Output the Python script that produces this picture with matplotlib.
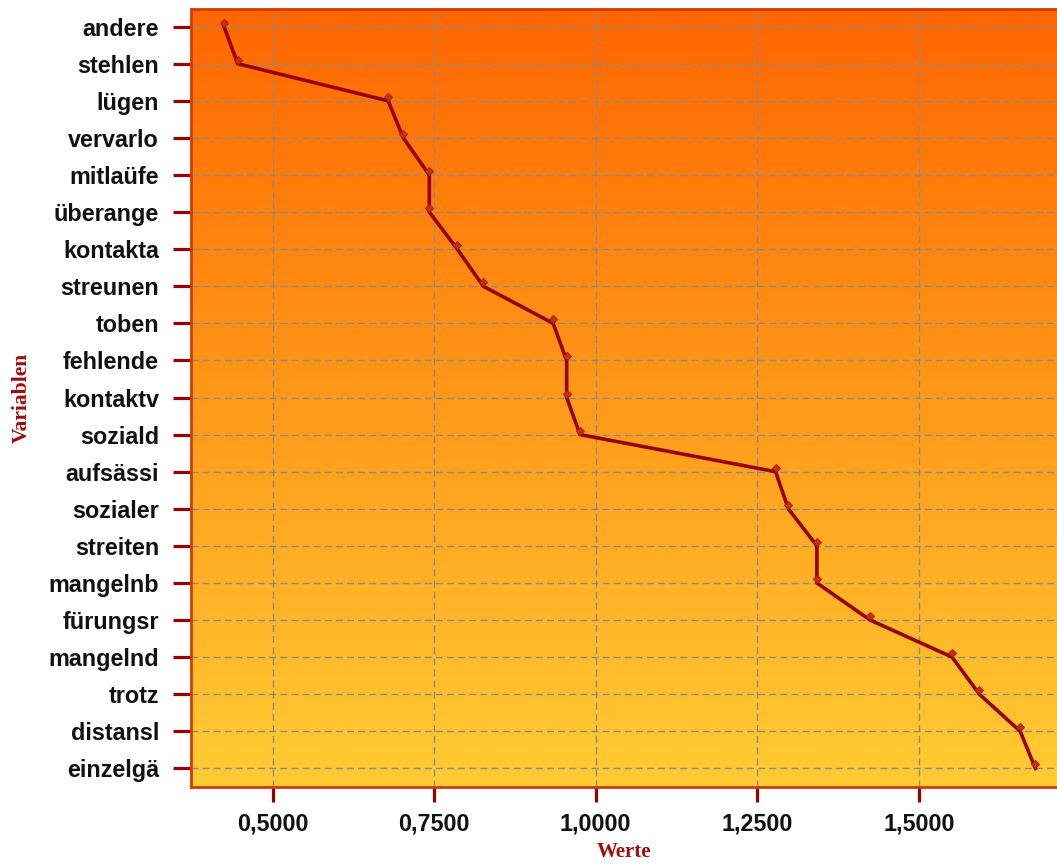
import numpy as np
import matplotlib.pyplot as plt
import matplotlib.transforms as mtransforms
from matplotlib.colors import LinearSegmentedColormap
from matplotlib.ticker import FuncFormatter, FixedLocator

# variables, top to bottom
variablen = ['andere', 'stehlen', 'lügen', 'vervarlo', 'mitlaüfe', 'überange',
             'kontakta', 'streunen', 'toben', 'fehlende', 'kontaktv', 'soziald',
             'aufsässi', 'sozialer', 'streiten', 'mangelnb', 'fürungsr',
             'mangelnd', 'trotz', 'distansl', 'einzelgä']
werte = [0.4247, 0.4458, 0.6787, 0.7022, 0.7424, 0.7424,
         0.7857, 0.8260, 0.9340, 0.9550, 0.9550, 0.9757,
         1.2784, 1.2981, 1.3423, 1.3423, 1.4246,
         1.5516, 1.5937, 1.6570, 1.6805]
x_ticks = [0.5, 0.75, 1.0, 1.25, 1.5]

DARKRED = '#990000'

fig = plt.figure(figsize=(10.57, 8.64), dpi=100)
ax = fig.add_axes([0.1807, 0.0891, 0.8193, 0.9005])

# orange-to-yellow background gradient
grad = LinearSegmentedColormap.from_list('bg', ['#ff6600', '#ffcc33'])
ax.imshow(np.linspace(0, 1, 256).reshape(-1, 1), cmap=grad, aspect='auto',
          extent=[0, 1, 0, 1], transform=ax.transAxes, zorder=0)

ypos = np.arange(len(variablen))
ax.plot(werte, ypos, color=DARKRED, lw=2.6, zorder=3, solid_joinstyle='miter')

# small markers sit slightly above each vertex
shift = mtransforms.ScaledTranslation(0, 4 / 100, fig.dpi_scale_trans)
ax.plot(werte, ypos, ls='none', marker='D', ms=4, color='#c8300c',
        mec='#b02008', mew=0.8, zorder=4, transform=ax.transData + shift)

ax.set_xlim(0.3735, 1.714)
ax.set_ylim(20.504, -0.477)

ax.xaxis.set_major_locator(FixedLocator(x_ticks))
ax.xaxis.set_major_formatter(FuncFormatter(lambda v, p: f'{v:.4f}'.replace('.', ',')))
ax.set_yticks(ypos)
ax.set_yticklabels(variablen)

ax.grid(True, color='#8a8a8a', ls=(0, (5, 3)), lw=1.0, zorder=1)

for lbl in ax.get_xticklabels() + ax.get_yticklabels():
    lbl.set_family(['Liberation Sans', 'DejaVu Sans'])
    lbl.set_fontweight('bold')
    lbl.set_fontsize(16.8)
    lbl.set_color('#111111')

ax.tick_params(axis='y', length=13, width=2.3, color=DARKRED, pad=10)
ax.tick_params(axis='x', length=11, width=2.3, color=DARKRED, pad=7)

for sp in ax.spines.values():
    sp.set_color('#d43a08')
    sp.set_linewidth(2)
ax.spines['right'].set_visible(False)

# axis titles
fig.text(624 / 1057, 1 - 852 / 864, 'Werte', ha='center', va='center',
         family='Liberation Serif', fontweight='bold', fontsize=15,
         color='#a00c0c')
fig.text(22 / 1057, 0.5394, 'Variablen', rotation=90, ha='center', va='center',
         family='Liberation Serif', fontweight='bold', fontsize=15.5,
         color='#a00c0c')

fig.savefig('out.png', dpi=100)
